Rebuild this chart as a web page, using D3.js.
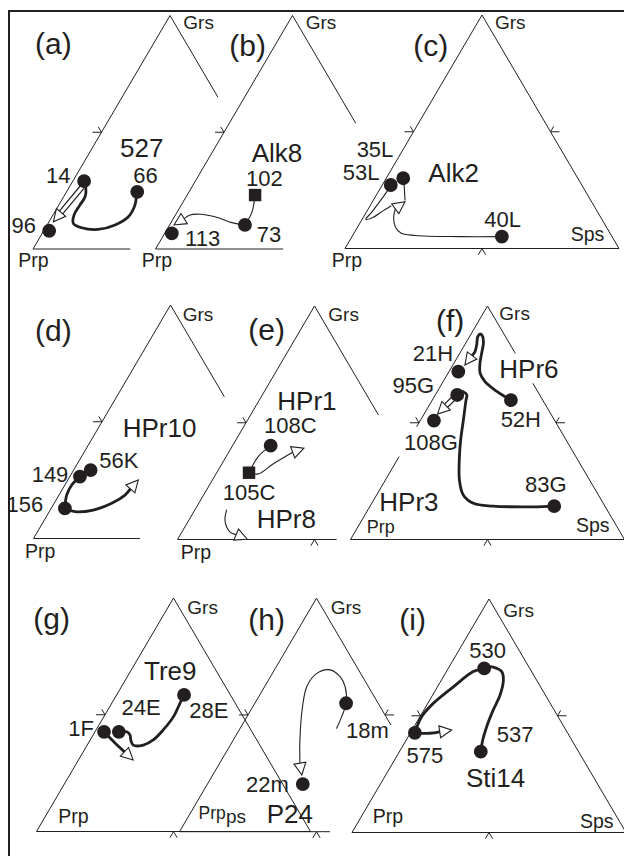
<!DOCTYPE html>
<html><head><meta charset="utf-8">
<script src="https://cdn.jsdelivr.net/npm/d3@7"></script>
<style>
body{margin:0;background:#fff}
svg{display:block}
text{font-family:"Liberation Sans",Arial,sans-serif;fill:#231f20}
</style>
</head><body>
<svg id="c" width="624" height="856"></svg>
<script>
// ================= DATA (ternary %, [Grs, Sps]; Prp = 100 - Grs - Sps) =================
const panelIds = ["a","b","c","d","e","f","g","h","i"];
const panelLetters = ["(a)","(b)","(c)","(d)","(e)","(f)","(g)","(h)","(i)"];
const sampleNames = ["527","Alk8","Alk2","HPr10","HPr1","HPr6","Tre9","P24","Sti14"];
const extraNames = ["HPr8","HPr3"];
const endMembers = ["Prp","Grs","Sps"];

// dots: [label, Grs, Sps, shape]
const dotsA = [["14",29.1,4.1],["66",24.5,25.8],["96",7.8,2.0]];
const dotsB = [["102",23.1,24.8,"sq"],["73",10.3,27.5],["113",6.7,2.6]];
const dotsC = [["35L",30.1,6.2],["53L",27.2,3.1],["40L",5.1,54.7]];
const dotsD = [["149",26.5,3.7],["56K",29.3,6.2],["156",12.9,5.0]];
const dotsE = [["108C",40.2,13.9],["105C",28.6,11.8,"sq"]];
const dotsF = [["21H",71.9,3.4],["95G",61.9,8.0],["108G",50.9,5.0],["52H",59.7,28.7],["83G",14.3,67.2]];
const dotsG = [["1F",42.7,3.3],["24E",42.7,8.7],["28E",58.5,24.6]];
const dotsH = [["18m",55.0,33.3],["22m",20.4,34.8]];
const dotsI = [["530",70.3,13.1],["537",34.6,29.7],["575",42.7,1.6]];

// zoning trends: points [Grs, Sps]
const pathsA = [
  {style:"thick", pts:[[24.5,25.6],[18.8,27.8],[13.8,27.9],[10.3,24.8],[8.4,19.6],[9.1,13.2],[11.0,9.2],[14.6,7.7],[18.8,7.7],[22.4,7.8],[26.0,6.3],[28.8,4.2]]},
  {style:"double", head:true, pts:[[26.7,4.7],[11.7,1.6]]}
];
const pathsB = [
  {style:"thin", pts:[[23.1,24.8],[15.8,27.3],[10.3,27.5]]},
  {style:"thin", head:true, pts:[[10.3,27.5],[11.3,22.2],[13.6,15.5],[14.9,8.8],[14.6,5.3],[13.1,2.4],[10.3,1.6]]}
];
const pathsC = [
  {style:"thin", head:true, pts:[[5.1,54.7],[5.1,39.4],[5.6,22.8],[6.6,17.1],[9.2,13.8],[13.1,11.2],[16.9,9.8],[20.0,11.9]]},
  {style:"thin", pts:[[25.1,3.2],[15.6,2.0],[12.6,1.3],[13.1,3.3],[16.1,5.8],[18.2,7.7]]},
  {style:"thin", pts:[[28.1,7.5],[20.8,11.5]]}
];
const pathsD = [
  {style:"thick", pts:[[26.5,3.7],[22.9,2.5],[18.6,2.8],[12.9,5.0]]},
  {style:"thick", head:true, pts:[[12.9,5.0],[11.5,9.4],[12.2,15.7],[15.1,21.0],[18.6,24.1],[25.1,25.7]]}
];
const pathsE = [
  {style:"thin", pts:[[40.2,13.9],[35.5,11.7],[28.6,11.8]]},
  {style:"thin", head:true, pts:[[28.6,11.8],[28.1,15.4],[32.3,18.7],[36.9,22.6],[39.1,26.6]]},
  {style:"thin", head:true, pts:[[12.6,11.6],[7.9,13.4],[3.2,17.6],[0.1,25.4]]}
];
const pathsF = [
  {style:"thick", head:true, pts:[[59.7,28.7],[61.2,25.8],[64.0,20.7],[67.6,15.3],[71.2,11.7],[75.5,9.5],[79.7,8.0],[84.0,6.5],[86.9,4.8],[88.0,3.3],[86.9,3.0],[83.3,4.4],[80.4,5.2],[74.7,4.4]]},
  {style:"thick", pts:[[14.3,67.2],[14.0,59.7],[14.3,44.9],[15.5,37.1],[19.1,31.6],[25.5,27.0],[35.5,22.0],[42.6,18.9],[51.2,15.6],[59.7,12.3],[61.9,11.5],[63.3,9.5],[63.3,7.7],[61.9,8.0]]},
  {style:"double", head:true, pts:[[61.0,7.6],[53.7,4.9]]}
];
const pathsG = [
  {style:"thick", pts:[[58.5,24.6],[54.9,24.9],[49.2,25.4],[43.5,24.5],[39.2,23.0],[37.0,20.5],[37.0,16.8],[39.2,14.8],[41.3,13.5],[42.7,11.6],[42.7,8.7]]},
  {style:"thick", head:true, pts:[[42.7,3.3],[37.9,9.7],[30.6,20.0]]}
];
const pathsH = [
  {style:"thin", head:true, pts:[[44.3,35.2],[49.6,34.5],[55.0,33.3],[62.1,29.4],[66.4,25.4],[69.3,20.3],[67.8,16.2],[62.1,15.4],[52.1,18.7],[39.3,24.3],[29.3,29.3],[24.3,32.5]]}
];
const pathsI = [
  {style:"thick", pts:[[34.6,29.7],[39.6,27.9],[45.3,26.5],[52.5,25.3],[58.9,24.6],[65.3,22.6],[68.9,20.2],[70.3,17.7],[71.0,14.9],[70.3,13.1]]},
  {style:"thick", pts:[[70.3,13.1],[68.9,9.8],[62.4,5.8],[55.3,2.0],[49.6,0.6],[42.7,1.6]]},
  {style:"thick", head:true, pts:[[42.7,1.6],[42.5,7.2],[43.9,14.4]]}
];

const dotsBy = {a:dotsA,b:dotsB,c:dotsC,d:dotsD,e:dotsE,f:dotsF,g:dotsG,h:dotsH,i:dotsI};
const pathsBy = {a:pathsA,b:pathsB,c:pathsC,d:pathsD,e:pathsE,f:pathsF,g:pathsG,h:pathsH,i:pathsI};

// ================= LAYOUT =================
const W = 274, H = 233.5;
const geom = {
  a:{x0:33,   y0:249,   L:[[0,1]], R:[[0,.35]],  B:[[0,.355]], ticks:"L",
     letter:[35,54], name:[120,156.7], grs:[183.3,29.3], prp:[18.3,267], sps:null,
     offs:{"14":[-38,2],"66":[-4,-9],"96":[-37.6,2.6]}},
  b:{x0:155.5, y0:249,  L:[[0,1]], R:[[0,.462]], B:[[0,.466]], ticks:"L",
     letter:[229.3,55.5], name:[251.7,161.5], grs:[305.7,29.3], prp:[141.7,267], sps:null,
     offs:{"102":[-9,-9.3],"73":[11.7,16.7],"113":[13.3,12.7]}},
  c:{x0:345,  y0:248.5, L:[[0,1]], R:[[0,1]],    B:[[0,1]],    ticks:"LRB",
     letter:[413.3,55.5], name:[428.3,181.7], grs:[495,29.3], prp:[331.7,267], sps:[570.7,240.7],
     offs:{"35L":[-46.6,-21.6],"53L":[-48,-5],"40L":[-17.7,-10]}},
  d:{x0:33.5, y0:538.5, L:[[0,1]], R:[[0,.393]], B:[[0,.389]], ticks:"L",
     letter:[35,341], name:[122.7,436.7], grs:[182.7,320.5], prp:[25,558.3], sps:null,
     offs:{"149":[-48.3,5],"56K":[8.6,-1.7],"156":[-58.3,3.4]}},
  e:{x0:177.5, y0:539.5, L:[[0,1]], R:[[0,.467]], B:[[0,.581]], ticks:"LB",
     letter:[248.3,340], name:[277.3,410], grs:[328.3,320.5], prp:[180.7,559.3], sps:null,
     offs:{"108C":[-6.7,-12.4],"105C":[-26.3,27.3]}, extra:[extraNames[0],256.7,528.3]},
  f:{x0:350.5, y0:539.5, L:[[0,.355],[.483,1]], R:[[0,.203],[.331,1]], B:[[0,1]], ticks:"LRB",
     letter:[436,330.5], name:[499.3,378.3], grs:[499.3,320], prp:[366.7,532.5], sps:[576,531.7],
     prpSize:18,
     offs:{"21H":[-45.6,-10.7],"95G":[-64.6,-1.7],"108G":[-30,29.3],"52H":[-10.3,26.7],"83G":[-29.3,-14.3]},
     extra:[extraNames[1],379.3,511]},
  g:{x0:36.5, y0:831.5, L:[[0,1]], R:[[0,1]], B:[[0,1]], ticks:"LB",
     letter:[33.3,629], name:[144,680], grs:[187.3,614.3], prp:[58.3,823.3], sps:null,
     offs:{"1F":[-35.7,4],"24E":[2.7,-16.7],"28E":[5.3,23.3]}},
  h:{x0:179.5, y0:831.7, L:[[0,1]], R:[[0,.543]], B:[[0,.549]], ticks:"LRB",
     letter:[248.3,630], name:[266.7,823.3], grs:[330.7,614.3], prp:[198.5,818.5], sps:null,
     prpSize:17.5,
     offs:{"18m":[0,35],"22m":[-56.7,7.7]}, ps:[226,823.3]},
  i:{x0:352, y0:832.5, L:[[0,1]], R:[[0,1]], B:[[0,1]], ticks:"LRB",
     letter:[399.3,630], name:[466,786.7], grs:[503.3,616.5], prp:[372.7,823.3], sps:[580,828.3],
     offs:{"530":[-15,-10],"537":[16,-10],"575":[-8.3,30.6]}}
};

const INK = "#231f20";
const svg = d3.select("#c");

// frame (top + left)
svg.append("line").attr("x1",8).attr("y1",11).attr("x2",624).attr("y2",11)
  .attr("stroke",INK).attr("stroke-width",2);
svg.append("line").attr("x1",9).attr("y1",10).attr("x2",9).attr("y2",856)
  .attr("stroke",INK).attr("stroke-width",2);

const curve = d3.line().curve(d3.curveCatmullRom.alpha(0.5));

panelIds.forEach((id, idx) => {
  const G = geom[id];
  const sx = d3.scaleLinear().domain([0,100]).range([G.x0, G.x0 + W]);
  const sy = d3.scaleLinear().domain([0,100]).range([G.y0, G.y0 - H]);
  const proj = (grs, sps) => [sx(sps + grs/2), sy(grs)];
  const g = svg.append("g").attr("class","panel-"+id);

  // triangle edges (visible parts)
  const edgeFn = {L: t => proj(100*t, 0), R: t => proj(100*(1-t), 100*t), B: t => proj(0, 100*t)};
  ["L","R","B"].forEach(k => G[k].forEach(([t0,t1]) => {
    const p0 = edgeFn[k](t0), p1 = edgeFn[k](t1);
    g.append("line").attr("x1",p0[0]).attr("y1",p0[1]).attr("x2",p1[0]).attr("y2",p1[1])
      .attr("stroke",INK).attr("stroke-width",1);
  }));

  // 50% ticks
  const tk = [];
  if (G.ticks.includes("L")) { const m = proj(50,0);  tk.push([m,[m[0]-9,m[1]]],[m,[m[0]-3.2,m[1]-5.4]]); }
  if (G.ticks.includes("R")) { const m = proj(50,50); tk.push([m,[m[0]+9,m[1]]],[m,[m[0]+3.2,m[1]-5.4]]); }
  if (G.ticks.includes("B")) { const m = proj(0,50);  tk.push([m,[m[0]-3.6,m[1]+6.2]],[m,[m[0]+3.6,m[1]+6.2]]); }
  tk.forEach(([p,q]) => g.append("line").attr("x1",p[0]).attr("y1",p[1]).attr("x2",q[0]).attr("y2",q[1])
      .attr("stroke",INK).attr("stroke-width",1));

  // trend paths
  pathsBy[id].forEach(p => {
    let pts = p.pts.map(d => proj(d[0], d[1]));
    let head = null;
    if (p.head) {
      const T = pts[pts.length-1];
      let j = pts.length - 2;
      while (j > 0 && Math.hypot(pts[j][0]-T[0], pts[j][1]-T[1]) < 10) j--;
      const P = pts[j];
      const dx = T[0]-P[0], dy = T[1]-P[1], len = Math.hypot(dx,dy);
      const ux = dx/len, uy = dy/len, HL = 12, HW = 6;
      const Bc = [T[0]-ux*HL, T[1]-uy*HL];
      head = [T, [Bc[0]-uy*HW, Bc[1]+ux*HW], [Bc[0]+uy*HW, Bc[1]-ux*HW]];
      const keep = len >= 16 ? pts.slice(0, j+1) : pts.slice(0, j);
      pts = keep.concat([Bc]);
    }
    const dstr = curve(pts);
    if (p.style === "double") {
      g.append("path").attr("d",dstr).attr("fill","none").attr("stroke",INK).attr("stroke-width",5.6);
      g.append("path").attr("d",dstr).attr("fill","none").attr("stroke","#fff").attr("stroke-width",3.2);
    } else {
      g.append("path").attr("d",dstr).attr("fill","none").attr("stroke",INK)
        .attr("stroke-width", p.style === "thick" ? 2.8 : 1.1)
        .attr("stroke-linecap","round").attr("stroke-linejoin","round");
    }
    if (head) {
      g.append("path").attr("d", d3.line()(head) + "Z")
        .attr("fill","#fff").attr("stroke",INK).attr("stroke-width",1.1).attr("stroke-linejoin","miter");
    }
  });

  // dots + labels
  dotsBy[id].forEach(d => {
    const [x,y] = proj(d[1], d[2]);
    const sym = d[3] === "sq" ? d3.symbol().type(d3.symbolSquare).size(155)
                              : d3.symbol().type(d3.symbolCircle).size(150);
    g.append("path").attr("d", sym()).attr("transform",`translate(${x},${y})`).attr("fill",INK);
    const o = G.offs[d[0]] || [6,-6];
    g.append("text").attr("x", x + o[0]).attr("y", y + o[1]).attr("font-size",22).text(d[0]);
  });

  // panel letter, sample name, end members
  g.append("text").attr("x",G.letter[0]).attr("y",G.letter[1]).attr("font-size",30).text(panelLetters[idx]);
  g.append("text").attr("x",G.name[0]).attr("y",G.name[1]).attr("font-size",26).text(sampleNames[idx]);
  if (G.extra) g.append("text").attr("x",G.extra[1]).attr("y",G.extra[2]).attr("font-size",26).text(G.extra[0]);
  g.append("text").attr("x",G.grs[0]).attr("y",G.grs[1]).attr("font-size",19).text(endMembers[1]);
  g.append("text").attr("x",G.prp[0]).attr("y",G.prp[1]).attr("font-size",G.prpSize || 19.5).text(endMembers[0]);
  if (G.sps) g.append("text").attr("x",G.sps[0]).attr("y",G.sps[1]).attr("font-size",19.5).text(endMembers[2]);
  if (G.ps) g.append("text").attr("x",G.ps[0]).attr("y",G.ps[1]).attr("font-size",19).text(endMembers[2].slice(1));
});
</script>
</body></html>
